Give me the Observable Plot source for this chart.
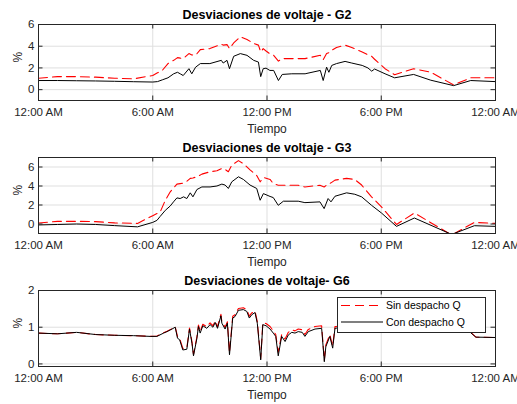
<!DOCTYPE html>
<html><head><meta charset="utf-8">
<script src="https://cdn.jsdelivr.net/npm/d3@7"></script>
<script src="https://cdn.jsdelivr.net/npm/@observablehq/plot@0.6"></script>
<style>
body{margin:0;background:#fff;}
#wrap{position:relative;width:517px;height:404px;overflow:hidden;background:#fff;}
#wrap svg{position:absolute;left:0;}
</style></head><body><div id="wrap"></div>
<script>
// ---- data ----
const tickHours = [0, 6, 12, 18, 24];
const tickLabels = ["12:00 AM", "6:00 AM", "12:00 PM", "6:00 PM", "12:00 AM"];
const seriesNames = ["Sin despacho Q", "Con despacho Q"];
const titles = ["Desviaciones de voltaje - G2", "Desviaciones de voltaje - G3", "Desviaciones de voltaje- G6"];

const g2Time = [0,1,2,3,4,5,6,6.25,6.5,6.8,7.1,7.3,7.45,7.6,7.9,8.05,8.25,8.5,9.0,9.6,9.7,9.9,10.03,10.25,10.6,10.95,11.3,11.55,11.67,11.8,11.95,12.15,12.35,12.6,12.8,13.3,14.0,14.8,14.95,15.13,15.25,15.4,15.65,16.1,16.45,17.0,17.3,17.5,17.65,18.2,18.7,19.7,20.6,21.8,22.7,24];
const g2Con = [0.84,0.84,0.82,0.80,0.77,0.73,0.70,0.74,0.9,1.09,1.46,1.6,1.45,1.3,1.93,1.46,2.07,2.4,2.4,2.7,2.45,2.7,1.93,3.07,3.32,3.16,2.7,2.54,1.2,1.93,1.98,1.77,1.77,0.84,1.4,1.46,1.46,1.77,0.84,2.07,1.6,2.23,2.4,2.6,2.45,2.23,2.0,1.7,1.9,1.46,1.09,1.4,0.87,0.37,0.84,0.74];
const g2Sin = [1.05,1.2,1.2,1.15,1.05,1.0,1.3,1.55,1.77,2.4,2.7,2.95,2.9,2.86,3.32,3.2,3.16,3.69,3.78,4.19,4.1,4.15,3.78,4.3,4.87,4.62,4.25,4.1,3.47,3.78,3.56,3.3,3.16,2.63,2.86,2.86,2.86,3.16,2.76,3.32,3.4,3.63,3.88,4.1,3.88,3.47,3.2,3.07,2.8,1.93,1.37,1.93,1.6,0.44,1.09,1.09];

const g3Time = [0,1,2,3,4,5.2,6,6.22,6.39,6.66,6.92,7.09,7.27,7.44,7.62,7.79,7.97,8.11,8.32,8.58,9.01,9.37,9.63,9.80,9.97,10.15,10.5,10.76,11.11,11.46,11.64,11.81,12.16,12.33,12.59,12.86,13.64,13.99,14.78,15.0,15.21,15.36,15.57,16.18,16.61,16.97,17.49,18.01,18.8,19.74,21.7,22.89,24];
const g3Con = [-0.1,-0.05,0,-0.05,-0.17,-0.3,0.17,0.38,0.8,1.44,1.9,2.33,2.75,2.68,2.86,2.68,3.28,2.86,3.63,3.9,3.9,4.0,4.2,4.1,3.74,4.44,4.97,4.69,4.1,3.74,2.5,3.2,2.9,2.78,1.97,2.4,2.4,2.25,2.33,1.62,2.68,2.33,2.92,3.28,3.13,2.86,1.97,1.16,-0.25,0.63,-1.1,-0.18,-0.25];
const g3Sin = [0.1,0.28,0.28,0.25,0.12,0.06,0.88,1.1,1.27,2.5,3.39,3.8,4.2,4.25,4.3,4.5,4.8,4.85,4.97,5.25,5.5,5.6,5.85,5.75,5.5,6.2,6.67,6.35,5.7,5.1,4.44,4.9,4.69,4.26,4.08,4.08,4.08,3.9,4.08,3.9,4.2,4.33,4.62,4.8,4.69,4.1,2.86,1.8,-0.05,1.16,-1.16,0.17,0.06];

const g6Time = [0,1,2,3,4,5,5.87,6.22,6.57,6.75,7.01,7.18,7.30,7.41,7.58,7.79,7.93,8.06,8.14,8.32,8.40,8.49,8.63,8.84,9.01,9.16,9.28,9.40,9.58,9.63,9.80,9.92,10.03,10.20,10.32,10.50,10.76,10.94,11.07,11.20,11.37,11.49,11.67,11.78,11.95,12.16,12.33,12.46,12.59,12.77,12.95,13.12,13.30,13.47,13.64,13.85,13.99,14.17,14.52,14.87,15.01,15.09,15.30,15.45,15.57,16,17,18,19,20,21,22,22.63,22.97,24];
const g6Con = [0.84,0.82,0.86,0.80,0.78,0.77,0.75,0.75,0.84,0.88,0.95,1.0,0.7,0.66,0.38,0.4,0.95,0.56,0.22,0.7,1.02,0.84,1.04,0.97,1.07,1.0,1.13,0.97,1.31,1.11,0.95,1.11,0.25,1.25,1.29,1.46,1.48,1.43,1.25,1.34,1.4,1.11,0.11,1.07,1.04,0.95,0.84,0.75,0.22,0.75,0.61,0.79,0.86,0.84,0.88,0.86,0.75,0.88,0.95,0.97,0.06,0.47,0.75,0.43,0.97,1.0,1.0,0.97,0.95,0.93,0.92,0.9,0.88,0.73,0.72];
const g6Sin = [0.84,0.82,0.86,0.80,0.78,0.77,0.75,0.76,0.85,0.89,0.96,1.01,0.75,0.7,0.42,0.44,0.98,0.6,0.26,0.74,1.06,0.88,1.08,1.01,1.12,1.04,1.17,1.01,1.35,1.15,1.0,1.15,0.3,1.3,1.34,1.51,1.53,1.48,1.3,1.39,1.44,1.16,0.15,1.12,1.1,1.02,0.9,0.8,0.32,0.8,0.68,0.86,0.93,0.9,0.95,0.93,0.8,0.94,1.02,1.04,0.1,0.52,0.8,0.48,1.02,1.03,1.03,1.0,0.97,0.95,0.94,0.92,0.89,0.73,0.72];

// ---- drawing ----
const FONT = "'Liberation Sans', Arial, Helvetica, sans-serif";
const AX = "#262626";
const wrap = document.getElementById("wrap");

function panel({title, t, sin, con, yDomain, yTicks, top, titleDy, legend}) {
  const W = 517, H = 138, mt = 24, mb = 38, ml = 38, mr = 22;
  const fw = W - ml - mr, fh = H - mt - mb, tl = 4.5;
  const dSin = t.map((h, i) => ({h, v: sin[i]}));
  const dCon = t.map((h, i) => ({h, v: con[i]}));
  const fmt = d => tickLabels[tickHours.indexOf(d)];
  const svg = Plot.plot({
    width: W, height: H, marginTop: mt, marginBottom: mb, marginLeft: ml, marginRight: mr,
    style: {fontFamily: FONT, fontSize: "11.5px", color: AX, background: "transparent"},
    x: {domain: [0, 24]},
    y: {domain: yDomain},
    marks: [
      Plot.gridX(tickHours, {stroke: "#dfdfdf", strokeOpacity: 1}),
      Plot.gridY(yTicks, {stroke: "#dfdfdf", strokeOpacity: 1}),
      Plot.line(dSin, {x: "h", y: "v", stroke: "#ff0000", strokeWidth: 1.1, strokeDasharray: "9,5", clip: true}),
      Plot.line(dCon, {x: "h", y: "v", stroke: "#000000", strokeWidth: 1, clip: true}),
      Plot.tickX(tickHours, {x: d => d, insetTop: fh - tl, stroke: AX}),
      Plot.tickX(tickHours, {x: d => d, insetBottom: fh - tl, stroke: AX}),
      Plot.tickY(yTicks, {y: d => d, insetRight: fw - tl, stroke: AX}),
      Plot.tickY(yTicks, {y: d => d, insetLeft: fw - tl, stroke: AX}),
      Plot.frame({stroke: AX}),
      Plot.axisX(tickHours, {tickSize: 0, tickPadding: 7.5, tickFormat: fmt, label: null, fill: AX}),
      Plot.axisY(yTicks, {tickSize: 0, tickPadding: 4, label: null, fill: AX}),
      Plot.text([title], {text: d => d, frameAnchor: "top", lineAnchor: "middle", dy: titleDy, fontWeight: "bold", fontSize: 12.5, fill: "#000"}),
      Plot.text(["Tiempo"], {text: d => d, frameAnchor: "bottom", lineAnchor: "middle", dy: 28.5, fontSize: 12, fill: AX}),
      Plot.text(["%"], {text: d => d, frameAnchor: "left", dx: -20, rotate: -90, fontSize: 12, fill: AX})
    ]
  });
  svg.style.top = top + "px";
  if (legend) {
    const g = d3.select(svg).append("g").attr("font-family", FONT).attr("font-size", "10.5px").attr("text-anchor", "start");
    const x0 = 337, y0 = 31, w = 148, h = 35;
    g.append("rect").attr("x", x0 + 0.5).attr("y", y0 + 0.5).attr("width", w).attr("height", h)
      .attr("fill", "white").attr("stroke", AX).attr("stroke-width", 1);
    const rows = [
      {name: seriesNames[0], stroke: "#ff0000", dash: "9,5", y: y0 + 8.5},
      {name: seriesNames[1], stroke: "#000000", dash: null, y: y0 + 25}
    ];
    for (const r of rows) {
      g.append("line").attr("x1", x0 + 4).attr("x2", x0 + 46).attr("y1", r.y).attr("y2", r.y)
        .attr("stroke", r.stroke).attr("stroke-width", 1.1).attr("stroke-dasharray", r.dash);
      g.append("text").attr("x", x0 + 49).attr("y", r.y).attr("dy", "0.35em")
        .attr("text-anchor", "start").attr("fill", "#000").text(r.name);
    }
  }
  wrap.appendChild(svg);
}

panel({title: titles[0], t: g2Time, sin: g2Sin, con: g2Con, yDomain: [-1, 6], yTicks: [0, 2, 4, 6], top: 0, titleDy: -10});
panel({title: titles[1], t: g3Time, sin: g3Sin, con: g3Con, yDomain: [-1, 7], yTicks: [0, 2, 4, 6], top: 133, titleDy: -10});
panel({title: titles[2], t: g6Time, sin: g6Sin, con: g6Con, yDomain: [-0.07, 2], yTicks: [0, 1, 2], top: 265.5, titleDy: -9.5, legend: true});
</script></body></html>
